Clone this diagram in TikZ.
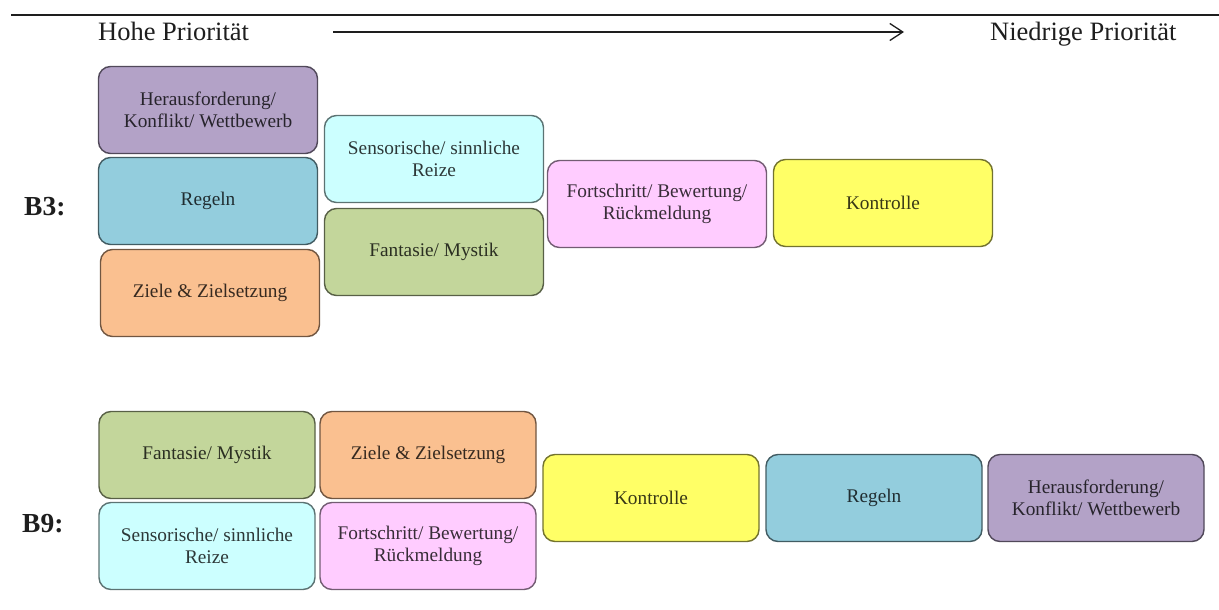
\documentclass[tikz,border=0pt]{standalone}
\usepackage{fontspec}
\setmainfont{Liberation Serif}
\usetikzlibrary{arrows.meta}

% box fills
\definecolor{cpurple}{RGB}{179,162,199}
\definecolor{cblue}{RGB}{147,205,221}
\definecolor{corange}{RGB}{250,192,144}
\definecolor{ccyan}{RGB}{204,255,255}
\definecolor{cgreen}{RGB}{195,214,155}
\definecolor{cpink}{RGB}{255,204,255}
\definecolor{cyellow}{RGB}{255,255,102}
\definecolor{ink}{RGB}{30,30,30}

\newcommand\boxtextsize{\fontsize{19.3}{22}\selectfont}
\newcommand\headsize{\fontsize{26.5}{30}\selectfont}
\newcommand\labelsize{\fontsize{27.5}{30}\selectfont}

\tikzset{
  prio/.style={draw=#1!45!black, fill=#1, rounded corners=12pt, line width=1.4pt,
    text=#1!22!black, align=center, font=\boxtextsize, inner sep=0pt,
    minimum width=219pt, minimum height=87pt},
  narrow/.style={minimum width=216pt},
  head/.style={font=\headsize, text=ink, inner sep=0pt, anchor=base west},
  rowlabel/.style={font=\labelsize\bfseries, text=ink, inner sep=0pt, anchor=west},
}

\begin{document}
\begin{tikzpicture}[x=1pt, y=-1pt]
\useasboundingbox (0,0) rectangle (1219,610);

% header rule
\coordinate (ruleL) at (11,15);
\coordinate (ruleR) at (1219,15);
\draw[ink, line width=2pt] (ruleL) -- (ruleR);

% priority direction
\node[head] (hi) at (98,41) {Hohe Priorität};
\node[head] (lo) at (990,41) {Niedrige Priorität};
\coordinate (arrS) at (333,32);
\coordinate (arrE) at (904,32);
\draw[ink, line width=1.3pt, -{Straight Barb[length=13pt,width=17pt,line width=1.3pt]}] (arrS) -- (arrE);

% row B3
\node[rowlabel] (lb3) at (24,207) {B3:};
\node[prio=cpurple] (b3her) at (208,110) {Herausforderung/\\Konflikt/ Wettbewerb};
\node[prio=cblue]   (b3reg) at (208,201) {Regeln};
\node[prio=corange] (b3zie) at (210,293) {Ziele \& Zielsetzung};
\node[prio=ccyan]   (b3sen) at (434,159) {Sensorische/ sinnliche\\Reize};
\node[prio=cgreen]  (b3fan) at (434,252) {Fantasie/ Mystik};
\node[prio=cpink]   (b3for) at (657,204) {Fortschritt/ Bewertung/\\Rückmeldung};
\node[prio=cyellow] (b3kon) at (883,203) {Kontrolle};

% row B9
\node[rowlabel] (lb9) at (22,524) {B9:};
\node[prio=cgreen, narrow]  (b9fan) at (207,455) {Fantasie/ Mystik};
\node[prio=corange, narrow] (b9zie) at (428,455) {Ziele \& Zielsetzung};
\node[prio=ccyan, narrow]   (b9sen) at (207,546) {Sensorische/ sinnliche\\Reize};
\node[prio=cpink, narrow]   (b9for) at (428,546) {Fortschritt/ Bewertung/\\Rückmeldung};
\node[prio=cyellow, narrow] (b9kon) at (651,498) {Kontrolle};
\node[prio=cblue, narrow]   (b9reg) at (874,498) {Regeln};
\node[prio=cpurple, narrow] (b9her) at (1096,498) {Herausforderung/\\Konflikt/ Wettbewerb};
\end{tikzpicture}
\end{document}
